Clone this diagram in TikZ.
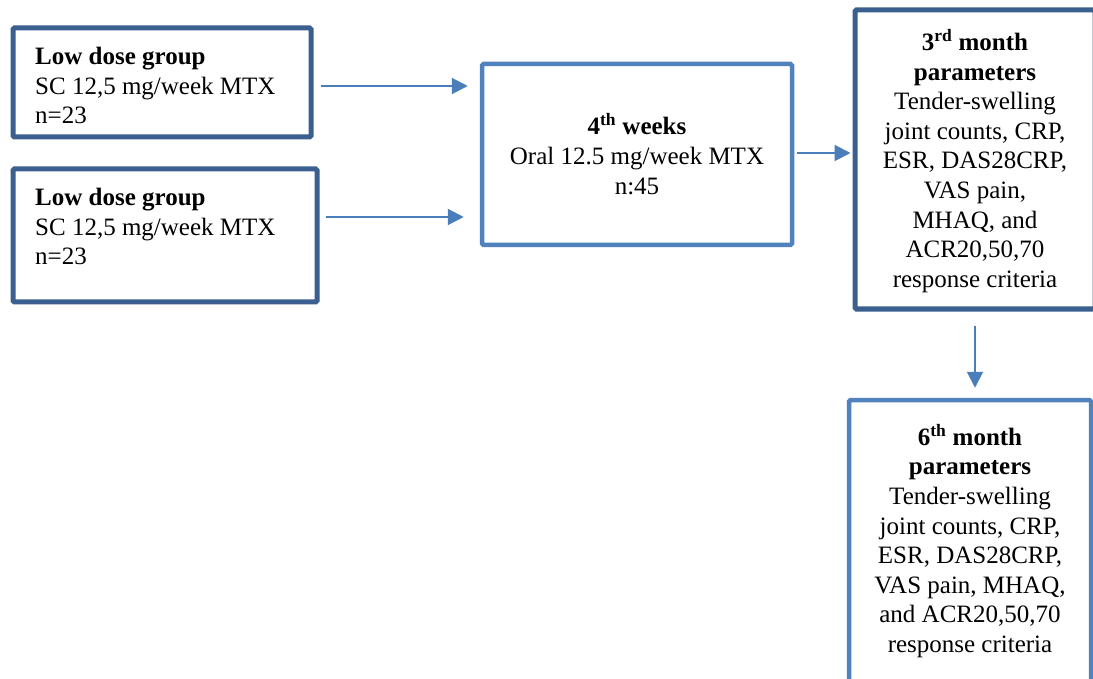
\documentclass[tikz,border=0pt]{standalone}
\usepackage{fontspec}
\setmainfont{Liberation Serif}
\usetikzlibrary{arrows.meta}
\definecolor{darkbox}{HTML}{3B5F8E}
\definecolor{lightbox}{HTML}{5082BE}
\definecolor{arrowc}{HTML}{4A7EBB}
\begin{document}
\begin{tikzpicture}[x=1pt,y=-1pt,
  darkstyle/.style={draw=darkbox, line width=5pt, rounded corners=1.5pt, fill=white, inner sep=0pt},
  lightstyle/.style={draw=lightbox, line width=4.5pt, rounded corners=1.5pt, fill=white, inner sep=0pt},
  txt/.style={font=\fontsize{25}{29.6}\selectfont},
  arr/.style={draw=arrowc, line width=2pt, -{Triangle[length=16pt,width=16pt]}}]
\clip (0,0) rectangle (1093,679);
\fill[white] (0,0) rectangle (1093,679);
% boxes
\node[darkstyle, minimum width=298pt, minimum height=109pt] (box1) at (162,82.5) {};
\node[txt, anchor=north west, align=left, inner sep=0pt] (t1) at (35,47)
  {\textbf{Low dose group}\\SC 12,5 mg/week MTX\\n=23};
\node[darkstyle, minimum width=304pt, minimum height=133pt] (box2) at (165,235.5) {};
\node[txt, anchor=north west, align=left, inner sep=0pt] (t2) at (35,188)
  {\textbf{Low dose group}\\SC 12,5 mg/week MTX\\n=23};
\node[lightstyle, minimum width=310pt, minimum height=181pt] (box3) at (637,154.5) {};
\node[txt, align=center, inner sep=0pt] (t3) at (637,154)
  {\textbf{4\textsuperscript{th} weeks}\\Oral 12.5 mg/week MTX\\n:45};
\node[darkstyle, minimum width=240pt, minimum height=299pt] (box4) at (975,159.5) {};
\node[txt, align=center, inner sep=0pt] (t4) at (975,161)
  {\textbf{3\textsuperscript{rd} month}\\\textbf{parameters}\\Tender-swelling\\joint counts, CRP,\\ESR, DAS28CRP,\\VAS pain,\\MHAQ, and\\ACR20,50,70\\response criteria};
\node[lightstyle, minimum width=242pt, minimum height=282pt] (box5) at (970,541) {};
\node[txt, align=center, inner sep=0pt] (t5) at (970,541)
  {\textbf{6\textsuperscript{th} month}\\\textbf{parameters}\\Tender-swelling\\joint counts, CRP,\\ESR, DAS28CRP,\\VAS pain, MHAQ,\\and ACR20,50,70\\response criteria};
% arrows
\coordinate (ya) at (0,86);
\coordinate (yb) at (0,217);
\coordinate (yc) at (0,153);
\coordinate (xd) at (975,0);
\draw[arr, shorten <=7pt, shorten >=12pt] (box1.east |- ya) -- (box3.west |- ya);
\draw[arr, shorten <=6pt, shorten >=16pt] (box2.east |- yb) -- (box3.west |- yb);
\draw[arr, shorten <=3pt, shorten >=2pt] (box3.east |- yc) -- (box4.west |- yc);
\draw[arr, shorten <=14pt, shorten >=10pt] (box4.south -| xd) -- (box5.north -| xd);
\end{tikzpicture}
\end{document}
